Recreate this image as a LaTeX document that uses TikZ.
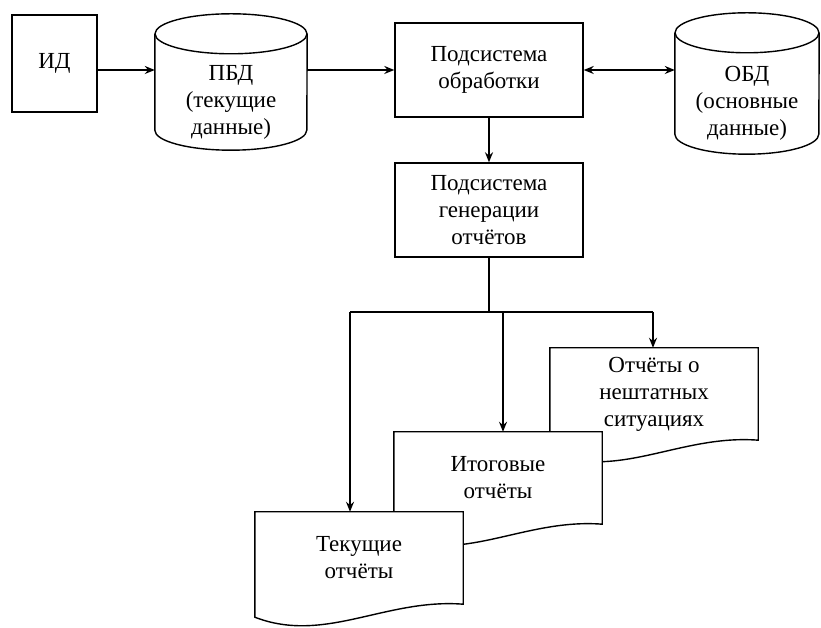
\documentclass[tikz,border=0pt]{standalone}
\usepackage{fontspec}
\setmainfont{Liberation Serif}
\usepackage{tikz}
\usetikzlibrary{shapes,arrows.meta,positioning,backgrounds}

\begin{document}
\begin{tikzpicture}[x=1pt, y=1pt, font={\fontsize{23}{27}\selectfont},
  box/.style={rectangle, draw=black, line width=1.4pt, align=center, minimum width=188pt, minimum height=94pt},
  cyl/.style={rectangle, align=center, minimum width=152pt, minimum height=96pt, inner sep=0pt},
  doc/.style={rectangle, align=center, minimum width=208pt, minimum height=92pt, inner sep=0pt},
  link/.style={draw=black, line width=1.4pt},
  arr/.style={link, -{Stealth[length=10pt,width=8pt]}},
  darr/.style={link, {Stealth[length=10pt,width=8pt]}-{Stealth[length=10pt,width=8pt]}},
  outline/.style={draw=black, fill=white, line width=1.4pt}]
\useasboundingbox (0,0) rectangle (821,628);

\node (id) [box, minimum width=85pt, minimum height=97pt] at (54.5,564.5) {ИД};
\node (pbd) [cyl] at (231,526) {ПБД\\(текущие\\данные)};
\node (obr) [box] at (489,558) {Подсистема\\обработки};
\node (obd) [cyl, minimum width=144pt, minimum height=101pt] at (747,524.5) {ОБД\\(основные\\данные)};
\node (gen) [box] at (489,418) {Подсистема\\генерации\\отчётов};

% databases
\draw[link] ([yshift=20pt]pbd.north west) -- ([yshift=20pt]pbd.south west) arc[start angle=180, end angle=360, x radius=76, y radius=20] -- ([yshift=20pt]pbd.north east);
\draw[link] ([yshift=20pt]pbd.north) ellipse [x radius=76, y radius=20];
\draw[link] ([yshift=20pt]obd.north west) -- ([yshift=20pt]obd.south west) arc[start angle=180, end angle=360, x radius=72, y radius=20] -- ([yshift=20pt]obd.north east);
\draw[link] ([yshift=20pt]obd.north) ellipse [x radius=72, y radius=20];

% reports
\node (nesht) [doc] at (654,234) {Отчёты о\\нештатных\\ситуациях};
\node (itog) [doc] at (498,150) {Итоговые\\отчёты};
\node (tek) [doc] at (359,70) {Текущие\\отчёты};
\begin{scope}[on background layer]
\foreach \d in {nesht, itog, tek}
  \draw[outline] (\d.north west) -- (\d.north east) -- (\d.south east)
    .. controls ([xshift=-78pt, yshift=6pt]\d.south east) and ([xshift=70pt, yshift=-40pt]\d.south west)
    .. ([yshift=-13pt]\d.south west) -- cycle;
\end{scope}

\draw[arr] (id.east |- obr) -- (pbd.west |- obr);
\draw[arr] (pbd.east |- obr) -- (obr.west);
\draw[darr] (obr.east) -- (obd.west |- obr);
\draw[arr] (obr) -- (gen);

\coordinate (busL) at (350,316);
\coordinate (busM) at (503,316);
\coordinate (busR) at (653,316);
\draw[link] (gen.south) -- (gen.south |- busL);
\draw[link] (busL) -- (busR);
\draw[arr] (busL) -- (busL |- tek.north);
\draw[arr] (busM) -- (busM |- itog.north);
\draw[arr] (busR) -- (busR |- nesht.north);
\end{tikzpicture}
\end{document}
